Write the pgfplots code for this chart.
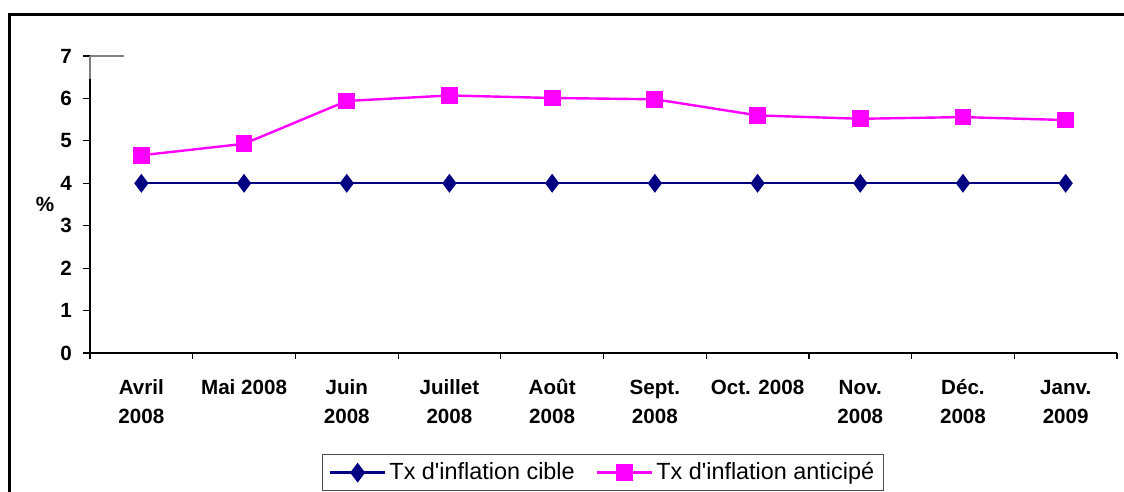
\documentclass[border=0pt]{standalone}
\usepackage{pgfplots}
\pgfplotsset{compat=1.18}
\usepackage{fontspec}
\setmainfont{Liberation Sans}
\definecolor{cible}{RGB}{0,0,128}
\definecolor{antic}{RGB}{255,0,255}
\begin{document}
\begin{tikzpicture}
\path[use as bounding box] (0,0) rectangle (562pt,246pt);
\draw[line width=1.5pt] (4.75pt,0pt) |- (562pt,238.5pt);
\begin{axis}[
  at={(45pt,69.5pt)}, anchor=south west,
  scale only axis, width=513.5pt, height=148.5pt,
  xmin=-0.5, xmax=9.5, ymin=0, ymax=7,
  axis x line*=bottom, axis y line*=left,
  axis line style={black, line width=0.6pt},
  /pgf/number format/assume math mode=true,
  ytick={0,1,...,7},
  xtick={0,...,9},
  xticklabels={{\strut Avril\\2008},{\strut Mai 2008},{\strut Juin\\2008},{\strut Juillet\\2008},{\strut Ao\^ut\\2008},{\strut Sept.\\2008},{\strut Oct. 2008},{\strut Nov.\\2008},{\strut D\'ec.\\2008},{\strut Janv.\\2009}},
  major x tick style={draw=none},
  minor xtick={-0.5,0.5,...,9.5},
  minor x tick style={black, line width=0.6pt},
  minor tick length=3pt,
  major tick length=3.5pt,
  tick align=outside,
  tick style={black, line width=0.6pt},
  xticklabel style={align=center, anchor=north, yshift=-3.8pt, font=\fontsize{10.3}{14.5}\selectfont\bfseries},
  yticklabel style={xshift=-2pt, font=\fontsize{10.3}{12}\selectfont\bfseries},
  ylabel={\%},
  ylabel style={at={(axis description cs:0,0.5)}, rotate=-90, anchor=center, xshift=-22.5pt, font=\fontsize{10.3}{12}\selectfont\bfseries},
  legend style={at={(axis description cs:0.4995,-0.403)}, anchor=center, legend columns=2, draw=black!70, line width=0.5pt,
    font=\fontsize{11.7}{12}\selectfont, inner xsep=3pt, inner ysep=2.5pt,
    nodes={inner sep=1.5pt},
    /tikz/every even column/.append style={column sep=9pt}},
  legend cell align=left,
  legend image code/.code={\draw[line width=1.5pt, mark repeat=2,mark phase=2] plot coordinates {(0cm,0cm)(0.48cm,0cm)(0.96cm,0cm)};},
  clip=false,
]
\addplot[cible, line width=1.2pt, mark=diamond*, mark size=3.75pt, mark options={solid}] coordinates {
(0,4)(1,4)(2,4)(3,4)(4,4)(5,4)(6,4)(7,4)(8,4)(9,4)};
\addlegendentry{Tx d\textquotesingle inflation cible}
\addplot[antic, line width=1.2pt, mark=square*, mark size=3.6pt, mark options={solid}] coordinates {
(0,4.66)(1,4.93)(2,5.94)(3,6.07)(4,6.01)(5,5.98)(6,5.60)(7,5.52)(8,5.56)(9,5.49)};
\addlegendentry{Tx d\textquotesingle inflation anticip\'e}
\draw[gray, line width=0.9pt] (axis cs:-0.5,7) -- (axis cs:-0.17,7);
\draw[gray, line width=0.9pt] (axis cs:-0.5,7) -- (axis cs:-0.5,6.45);
\end{axis}
\end{tikzpicture}
\end{document}
